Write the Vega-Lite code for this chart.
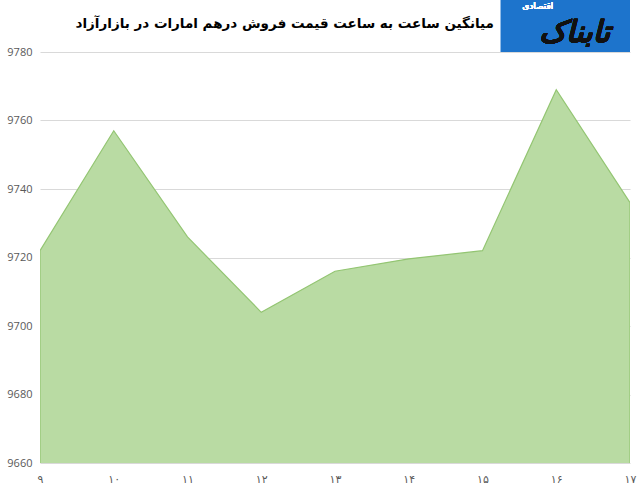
{
  "$schema": "https://vega.github.io/schema/vega-lite/v6.json",
  "autosize": "none",
  "width": 590,
  "height": 411,
  "padding": {"left": 40, "top": 52, "right": 11, "bottom": 31},
  "background": "white",
  "config": {"view": {"stroke": null}},
  "title": {
    "text": "میانگین ساعت به ساعت قیمت فروش درهم امارات در بازارآزاد",
    "anchor": "end",
    "dx": -142,
    "offset": -31,
    "font": "DejaVu Sans",
    "fontSize": 13.5,
    "fontWeight": "bold",
    "color": "#000000"
  },
  "data": {
    "values": [
      {"hour": 9, "price": 9722},
      {"hour": 10, "price": 9757},
      {"hour": 11, "price": 9726},
      {"hour": 12, "price": 9704},
      {"hour": 13, "price": 9716},
      {"hour": 14, "price": 9719.6},
      {"hour": 15, "price": 9722},
      {"hour": 16, "price": 9769},
      {"hour": 17, "price": 9736}
    ]
  },
  "layer": [
    {
      "mark": {"type": "area", "fill": "#b9dba3", "stroke": "#93c572", "strokeWidth": 1.2, "clip": true},
      "encoding": {
        "x": {
          "field": "hour",
          "type": "quantitative",
          "scale": {"domain": [9, 17], "nice": false, "zero": false},
          "axis": {
            "title": null,
            "values": [9, 10, 11, 12, 13, 14, 15, 16, 17],
            "labelExpr": "['۹','۱۰','۱۱','۱۲','۱۳','۱۴','۱۵','۱۶','۱۷'][datum.value - 9]",
            "grid": false,
            "ticks": false,
            "domain": false,
            "labelPadding": 10,
            "labelFont": "DejaVu Sans",
            "labelFontSize": 11,
            "labelColor": "#595959",
            "labelFlush": false
          }
        },
        "y": {
          "field": "price",
          "type": "quantitative",
          "scale": {"domain": [9660, 9780], "nice": false, "zero": false},
          "axis": {
            "title": null,
            "values": [9660, 9680, 9700, 9720, 9740, 9760, 9780],
            "format": "d",
            "grid": true,
            "gridColor": "#d9d9d9",
            "gridWidth": 1,
            "ticks": false,
            "domain": false,
            "labelPadding": 8,
            "labelFont": "Open Sans",
            "labelFontSize": 11,
            "labelColor": "#595959"
          }
        }
      }
    },
    {
      "mark": {"type": "rect", "color": "#1d74cc", "clip": false},
      "encoding": {
        "x": {"datum": 15.25, "type": "quantitative"},
        "x2": {"datum": 17},
        "y": {"datum": 9795.2, "type": "quantitative"},
        "y2": {"datum": 9780}
      }
    },
    {
      "mark": {"type": "text", "text": "تابناک", "font": "DejaVu Sans", "fontSize": 30, "fontWeight": "bold", "fontStyle": "italic", "color": "#111111", "align": "center", "baseline": "middle"},
      "encoding": {
        "x": {"datum": 16.25, "type": "quantitative"},
        "y": {"datum": 9785.5, "type": "quantitative"}
      }
    },
    {
      "mark": {"type": "text", "text": "اقتصادی", "font": "DejaVu Sans", "fontSize": 9, "color": "#ffffff", "align": "center", "baseline": "middle"},
      "encoding": {
        "x": {"datum": 15.75, "type": "quantitative"},
        "y": {"datum": 9793.3, "type": "quantitative"}
      }
    }
  ]
}
